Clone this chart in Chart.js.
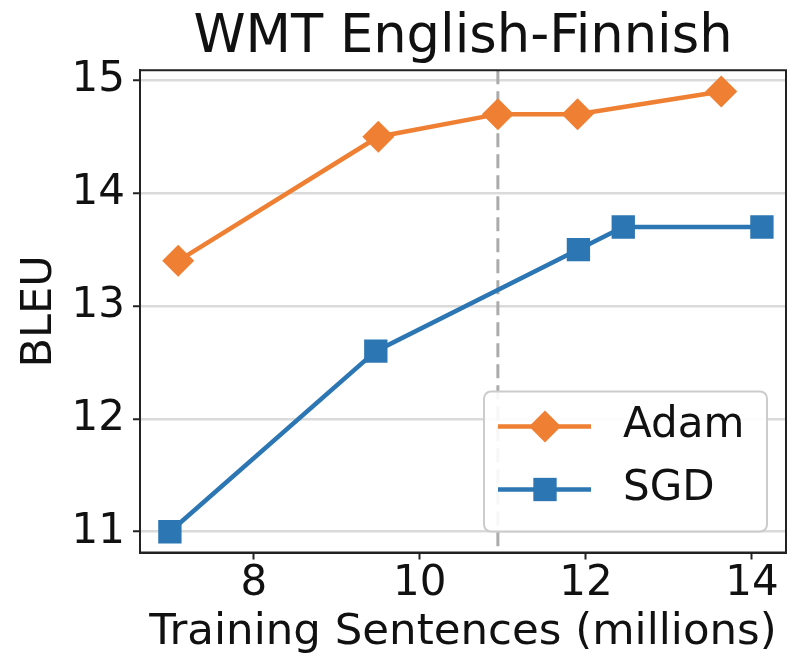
<!DOCTYPE html>
<html>
<head>
<meta charset="utf-8">
<script src="https://cdn.jsdelivr.net/npm/chart.js@4"></script>
<style>
  html, body { margin: 0; background: #fff; overflow: hidden; }
  canvas { display: block; }
</style>
</head>
<body>
<canvas id="chart" width="788" height="656"></canvas>
<script>
// values
const adamSentences = [7.09, 9.5, 10.94, 11.9, 13.63];
const adamBleu = [13.4, 14.5, 14.7, 14.7, 14.9];
const sgdSentences = [6.99, 9.47, 11.91, 12.45, 14.12];
const sgdBleu = [11.0, 12.6, 13.5, 13.7, 13.7];
const cutoffSentences = 10.94; // dashed vertical line
const xTickValues = [8, 10, 12, 14];
const yTickValues = [11, 12, 13, 14, 15];

const ORANGE = "#ee7f33";
const BLUE = "#2b76b3";

Chart.defaults.font.family = "'DejaVu Sans', sans-serif";
Chart.defaults.color = "#111";

function toPoints(xs, ys) {
  return xs.map((x, i) => ({ x: x, y: ys[i] }));
}

function drawMarker(ctx, style, x, y, r, color) {
  ctx.fillStyle = color;
  ctx.beginPath();
  if (style == "rectRot") {
    ctx.moveTo(x - r, y);
    ctx.lineTo(x, y - r);
    ctx.lineTo(x + r, y);
    ctx.lineTo(x, y + r);
  } else {
    let s = r * Math.SQRT1_2;
    ctx.rect(x - s, y - s, 2 * s, 2 * s);
  }
  ctx.closePath();
  ctx.fill();
}

// dashed line, frame and matplotlib-like legend
const extras = {
  id: "extras",
  beforeDatasetsDraw(chart) {
    const { ctx, chartArea } = chart;
    const x = chart.scales.x.getPixelForValue(cutoffSentences);
    ctx.save();
    ctx.strokeStyle = "#ababab";
    ctx.lineWidth = 3;
    ctx.setLineDash([14, 7]);
    ctx.beginPath();
    ctx.moveTo(x, chartArea.top);
    ctx.lineTo(x, chartArea.bottom);
    ctx.stroke();
    ctx.restore();
  },
  afterDraw(chart) {
    const { ctx, chartArea } = chart;
    ctx.save();
    ctx.strokeStyle = "#222";
    ctx.lineWidth = 2;
    ctx.strokeRect(chartArea.left, chartArea.top, chartArea.right - chartArea.left, chartArea.bottom - chartArea.top);

    // legend box
    const w = 283, h = 140;
    const bx = chartArea.right - 19 - w;
    const by = chartArea.bottom - 21 - h;
    ctx.fillStyle = "rgba(255,255,255,0.9)";
    ctx.strokeStyle = "#cccccc";
    ctx.lineWidth = 2;
    ctx.beginPath();
    ctx.roundRect(bx, by, w, h, 7);
    ctx.fill();
    ctx.stroke();

    chart.data.datasets.forEach((ds, i) => {
      const y = by + 35 + i * 63;
      ctx.strokeStyle = ds.borderColor;
      ctx.lineWidth = ds.borderWidth;
      ctx.beginPath();
      ctx.moveTo(bx + 14, y);
      ctx.lineTo(bx + 107, y);
      ctx.stroke();
      drawMarker(ctx, ds.pointStyle, bx + 61, y, ds.pointRadius, ds.backgroundColor);
      ctx.fillStyle = "#111";
      ctx.font = "42px 'DejaVu Sans'";
      ctx.textBaseline = "middle";
      ctx.textAlign = "left";
      ctx.fillText(ds.label, bx + 139, y);
    });
    ctx.restore();
  },
};

new Chart(document.getElementById("chart"), {
  type: "line",
  data: {
    datasets: [
      {
        label: "Adam",
        data: toPoints(adamSentences, adamBleu),
        borderColor: ORANGE,
        backgroundColor: ORANGE,
        borderWidth: 4.5,
        pointStyle: "rectRot",
        pointRadius: 16,
        pointBorderWidth: 0,
      },
      {
        label: "SGD",
        data: toPoints(sgdSentences, sgdBleu),
        borderColor: BLUE,
        backgroundColor: BLUE,
        borderWidth: 4.5,
        pointStyle: "rect",
        pointRadius: 16.5,
        pointBorderWidth: 0,
      },
    ],
  },
  options: {
    responsive: false,
    animation: false,
    events: [],
    layout: { autoPadding: false, padding: { left: 0, right: 2, top: 0, bottom: 0 } },
    plugins: {
      legend: { display: false },
      tooltip: { enabled: false },
      title: {
        display: true,
        text: "WMT English-Finnish",
        fullSize: false,
        color: "#111",
        font: { size: 52.7, weight: "normal", lineHeight: 1.2 },
        padding: { top: 7, bottom: 0 },
      },
    },
    scales: {
      x: {
        type: "linear",
        min: 6.63,
        max: 14.41,
        afterBuildTicks: (scale) => {
          scale.ticks = xTickValues.map((v) => ({ value: v }));
        },
        afterFit: (scale) => {
          scale.height = 103.5;
          scale.paddingLeft = 0;
          scale.paddingRight = 0;
        },
        grid: {
          drawOnChartArea: false,
          tickLength: 7,
          tickWidth: 2,
          tickColor: "#222",
        },
        border: { color: "#222", width: 2 },
        ticks: {
          padding: 4,
          maxRotation: 0,
          font: { size: 42, lineHeight: 1 },
        },
        title: {
          display: true,
          text: "Training Sentences (millions)",
          font: { size: 43.5, lineHeight: 1 },
          padding: { top: 0, bottom: 1.5 },
        },
      },
      y: {
        type: "linear",
        min: 10.816,
        max: 15.089,
        afterBuildTicks: (scale) => {
          scale.ticks = yTickValues.map((v) => ({ value: v }));
        },
        afterFit: (scale) => {
          scale.width = 140;
        },
        grid: {
          color: "#dadada",
          lineWidth: 2.5,
          tickLength: 7,
          tickWidth: 2,
          tickColor: "#222",
        },
        border: { color: "#222", width: 2 },
        ticks: {
          padding: 8,
          font: { size: 42, lineHeight: 1 },
        },
        title: {
          display: true,
          text: "BLEU",
          font: { size: 43, lineHeight: 1.2 },
          padding: { top: 14, bottom: 0 },
        },
      },
    },
  },
  plugins: [extras],
});
</script>
</body>
</html>
